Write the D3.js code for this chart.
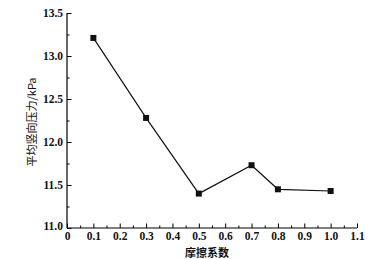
<!DOCTYPE html>
<html>
<head>
<meta charset="utf-8">
<script src="https://cdn.jsdelivr.net/npm/d3@7"></script>
<style>
  body { margin: 0; background: #fff; }
  svg { display: block; }
  .label { font-family: "Noto Sans CJK SC", sans-serif; font-size: 11px; fill: #111; }
</style>
</head>
<body>
<svg id="chart" width="380" height="259"></svg>
<script>
// friction coefficient vs mean vertical pressure
const friction = [0.1, 0.3, 0.5, 0.7, 0.8, 1.0];
const pressure = [13.21, 12.28, 11.40, 11.73, 11.45, 11.43];
const xTicks = [0, 0.1, 0.2, 0.3, 0.4, 0.5, 0.6, 0.7, 0.8, 0.9, 1.0, 1.1];
const yTicks = [11.0, 11.5, 12.0, 12.5, 13.0, 13.5];

let svg = d3.select("#chart");
let margin = { top: 13, right: 23, bottom: 31, left: 67 };
const w = 380 - margin.left - margin.right;
const h = 259 - margin.top - margin.bottom;
const serif = "'Liberation Serif', 'DejaVu Serif', serif";

const g = svg.append("g")
    .attr("transform", "translate(" + margin.left + "," + margin.top + ")");

const x = d3.scaleLinear().domain([0, 1.1]).range([0, w]);
const y = d3.scaleLinear().domain([11, 13.5]).range([h, 0]);

// minor ticks first (inward)
g.append("g")
    .attr("transform", "translate(0," + h + ")")
    .call(d3.axisBottom(x).tickValues(d3.range(0.05, 1.1, 0.1)).tickSize(-2.5).tickFormat(""))
    .call(a => a.select(".domain").remove());
g.append("g")
    .call(d3.axisLeft(y).tickValues(d3.range(11.25, 13.5, 0.5)).tickSize(-2.5).tickFormat(""))
    .call(a => a.select(".domain").remove());

// x axis
const xAxis = g.append("g")
    .attr("transform", "translate(0," + h + ")")
    .call(d3.axisBottom(x).tickValues(xTicks).tickSize(-4.5).tickPadding(4)
        .tickFormat(d => d === 0 ? "0" : d3.format(".1f")(d)));
xAxis.attr("font-family", serif).attr("font-size", 11.5).attr("font-weight", "bold");
xAxis.select(".domain").attr("d", "M0,0H" + w).attr("stroke-width", 1.2);
xAxis.selectAll(".tick text").attr("fill", "#111");

// y axis
const yAxis = g.append("g")
    .call(d3.axisLeft(y).tickValues(yTicks).tickSize(-4.5).tickPadding(4)
        .tickFormat(d3.format(".1f")));
yAxis.attr("font-family", serif).attr("font-size", 11.5).attr("font-weight", "bold");
yAxis.select(".domain").attr("d", "M0,0V" + h).attr("stroke-width", 1.2);
yAxis.selectAll(".tick text").attr("fill", "#111");
yAxis.selectAll(".tick").filter(d => d === 11).select("text").attr("dy", "0.1em");

const data = friction.map((f, i) => ({ f: f, p: pressure[i] }));

g.append("path")
    .datum(data)
    .attr("fill", "none")
    .attr("stroke", "#111")
    .attr("stroke-width", 1.2)
    .attr("d", d3.line().x(d => x(d.f)).y(d => y(d.p)));

g.selectAll(".pt").data(data)
    .enter()
    .append("rect")
    .attr("class", "pt")
    .attr("x", d => x(d.f) - 3)
    .attr("y", d => y(d.p) - 3)
    .attr("width", 6)
    .attr("height", 6)
    .attr("fill", "#111");

svg.append("text")
    .attr("class", "label")
    .attr("x", margin.left + w / 2 - 5)
    .attr("y", 257)
    .attr("text-anchor", "middle")
    .attr("font-weight", "bold")
    .text("摩擦系数");

svg.append("text")
    .attr("class", "label")
    .attr("transform", "translate(36,122) rotate(-90)")
    .attr("text-anchor", "middle")
    .text("平均竖向压力/kPa");
</script>
</body>
</html>
